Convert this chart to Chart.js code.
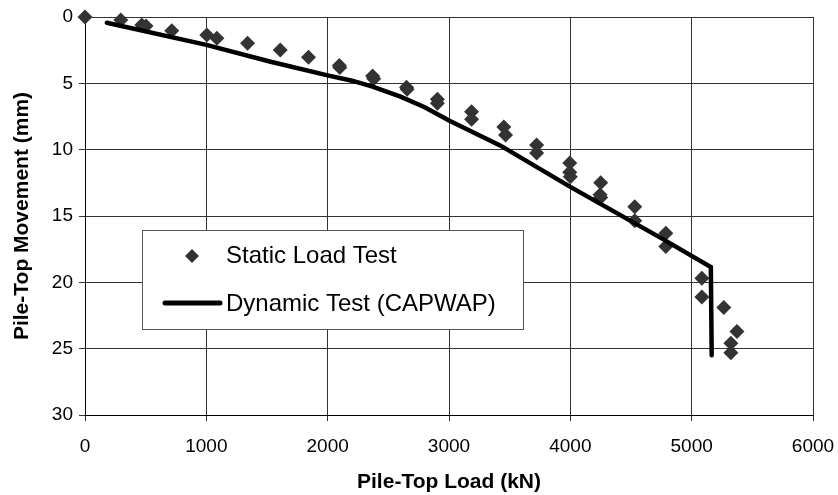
<!DOCTYPE html>
<html>
<head>
<meta charset="utf-8">
<script src="https://cdn.jsdelivr.net/npm/chart.js@4"></script>
<style>
  html, body { margin: 0; padding: 0; background: #fff; }
  #wrap { width: 838px; height: 495px; }
</style>
</head>
<body>
<div id="wrap"><canvas id="chart" width="838" height="495"></canvas></div>
<script>
// Static load test readings
const staticLoad = [0, 295, 468, 503, 715, 1004, 1087, 1340, 1609, 1842, 2096, 2100, 2370, 2380, 2650, 2655,
  2904, 2904, 3186, 3186, 3452, 3466, 3722, 3722, 3995, 3995, 4000, 4250, 4245, 4250, 4531, 4531,
  4787, 4787, 5084, 5084, 5265, 5373, 5323, 5323];
const staticMove = [0, 0.23, 0.6, 0.68, 1.03, 1.36, 1.6, 1.98, 2.49, 3.04, 3.65, 3.8, 4.45, 4.65, 5.3, 5.45,
  6.2, 6.5, 7.15, 7.7, 8.3, 8.9, 9.65, 10.25, 11.0, 11.7, 12.05, 12.5, 13.4, 13.6, 14.3, 15.35,
  16.3, 17.3, 19.7, 21.1, 21.9, 23.7, 24.6, 25.3];

// Dynamic test (CAPWAP) curve
const dynLoad = [180, 1000, 1530, 2000, 2200, 2370, 2600, 2800, 3000, 3425, 4000, 4745, 5158, 5165];
const dynMove = [0.43, 2.1, 3.37, 4.4, 4.8, 5.25, 6.0, 6.8, 7.8, 9.7, 12.8, 16.65, 18.85, 25.5];

const xTicks = [0, 1000, 2000, 3000, 4000, 5000, 6000];
const yTicks = [0, 5, 10, 15, 20, 25, 30];

const seriesNames = ["Static Load Test", "Dynamic Test (CAPWAP)"];

const toPoints = (xs, ys) => xs.map((x, i) => ({ x: x, y: ys[i] }));

const FONT = "'Liberation Sans', Arial, sans-serif";
const MARK = "#333333";

// legend box drawn inside the plot area
const boxLegend = {
  id: "boxLegend",
  afterDatasetsDraw(chart) {
    const ctx = chart.ctx;
    const left = 142, top = 230, w = 381, h = 99;
    ctx.save();
    ctx.fillStyle = "#fff";
    ctx.fillRect(left, top, w, h);
    ctx.strokeStyle = "#555";
    ctx.lineWidth = 1;
    ctx.strokeRect(left + 0.5, top + 0.5, w, h);

    // diamond sample
    const cx = 192, cy = 256, r = 7;
    ctx.fillStyle = MARK;
    ctx.beginPath();
    ctx.moveTo(cx, cy - r);
    ctx.lineTo(cx + r, cy);
    ctx.lineTo(cx, cy + r);
    ctx.lineTo(cx - r, cy);
    ctx.closePath();
    ctx.fill();

    // line sample
    ctx.strokeStyle = "#000";
    ctx.lineWidth = 5;
    ctx.lineCap = "round";
    ctx.beginPath();
    ctx.moveTo(165, 303);
    ctx.lineTo(220, 303);
    ctx.stroke();

    ctx.fillStyle = "#000";
    ctx.font = "24px " + FONT;
    ctx.textBaseline = "middle";
    ctx.textAlign = "left";
    ctx.fillText(chart.data.datasets[0].label, 226, 256);
    ctx.fillText(chart.data.datasets[1].label, 226, 304);
    ctx.restore();
  }
};

new Chart(document.getElementById("chart"), {
  type: "scatter",
  data: {
    datasets: [
      {
        label: seriesNames[0],
        data: toPoints(staticLoad, staticMove),
        pointStyle: "rectRot",
        pointRadius: 7.5,
        pointHoverRadius: 7.5,
        backgroundColor: MARK,
        borderColor: MARK,
        borderWidth: 0,
        clip: false,
        order: 1
      },
      {
        label: seriesNames[1],
        data: toPoints(dynLoad, dynMove),
        showLine: true,
        pointRadius: 0,
        borderColor: "#000",
        borderWidth: 4.5,
        borderCapStyle: "round",
        borderJoinStyle: "miter",
        tension: 0,
        order: 0
      }
    ]
  },
  options: {
    responsive: false,
    animation: false,
    layout: { padding: { top: 17, right: 25, left: 0, bottom: 0 } },
    plugins: {
      legend: { display: false },
      tooltip: { enabled: false }
    },
    scales: {
      x: {
        type: "linear",
        min: 0,
        max: 6000,
        afterBuildTicks: (s) => { s.ticks = xTicks.map((v) => ({ value: v })); },
        afterFit: (s) => { s.height = 80; s.paddingLeft = 0; s.paddingRight = 0; },
        grid: { color: "#333", lineWidth: 1, tickLength: 6 },
        border: { color: "#000", width: 1 },
        ticks: {
          color: "#000", font: { family: FONT, size: 19 }, padding: 14, maxRotation: 0,
          callback: (v) => String(v)
        },
        title: {
          display: true,
          text: "Pile-Top Load (kN)",
          color: "#000",
          font: { family: FONT, size: 21, weight: "bold" },
          padding: { top: 4, bottom: 0 }
        }
      },
      y: {
        type: "linear",
        min: 0,
        max: 30,
        reverse: true,
        afterBuildTicks: (s) => { s.ticks = yTicks.map((v) => ({ value: v })); },
        afterFit: (s) => { s.width = 85; s.paddingTop = 0; s.paddingBottom = 0; },
        grid: { color: "#333", lineWidth: 1, tickLength: 6 },
        border: { color: "#000", width: 1 },
        ticks: {
          color: "#000", font: { family: FONT, size: 19 }, padding: 6,
          callback: (v) => String(v)
        },
        title: {
          display: true,
          text: "Pile-Top Movement (mm)",
          color: "#000",
          font: { family: FONT, size: 21, weight: "bold" },
          padding: { top: 10, bottom: 0 }
        }
      }
    }
  },
  plugins: [boxLegend]
});
</script>
</body>
</html>
